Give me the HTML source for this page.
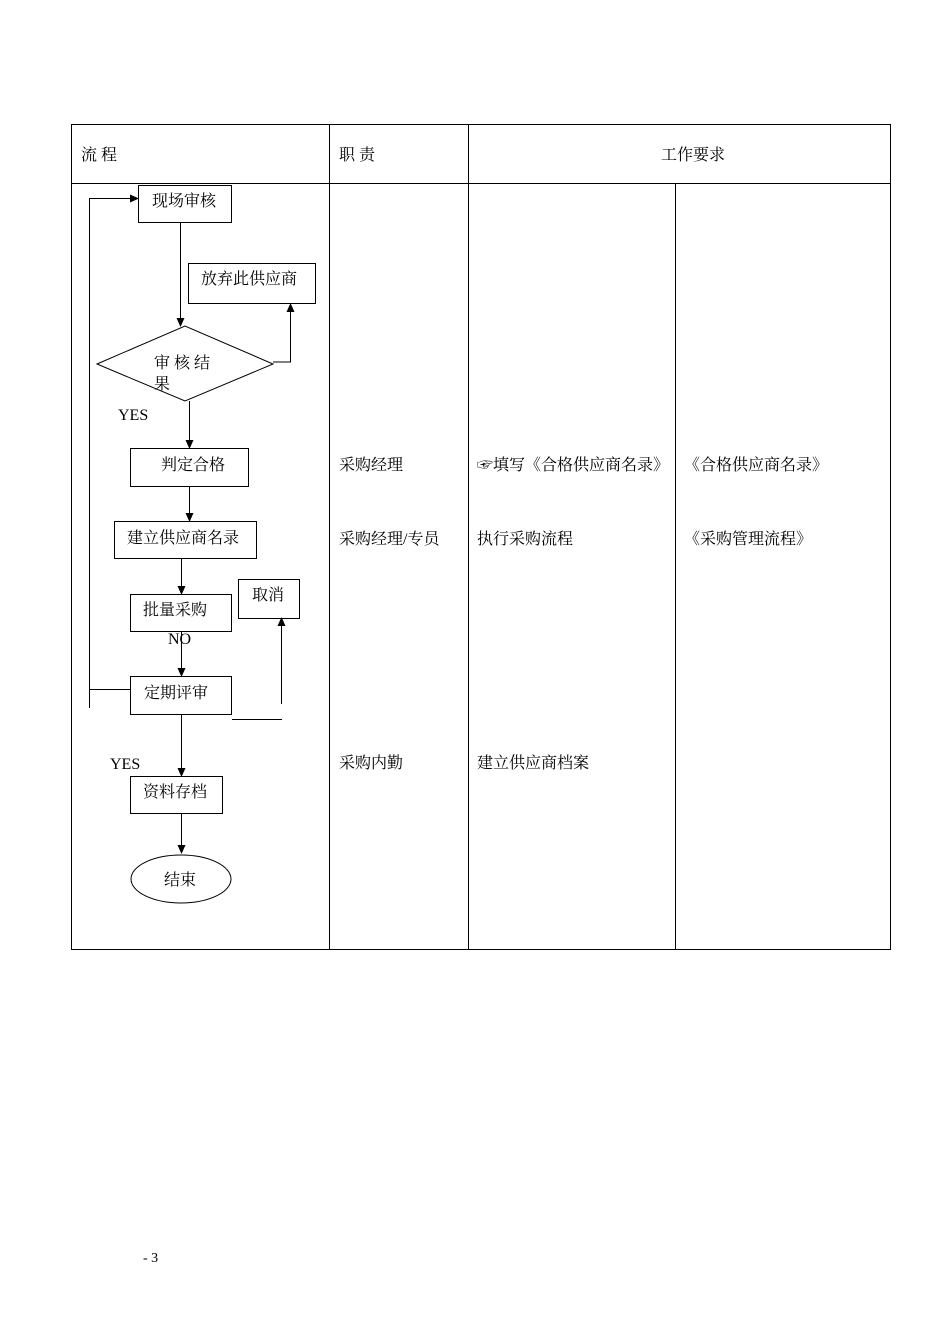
<!DOCTYPE html>
<html><head><meta charset="utf-8"><style>
body{margin:0;background:#fff;}
svg{display:block;}
text{font-family:"Liberation Serif","Noto Serif CJK SC","Noto Sans CJK SC",serif;font-size:16px;fill:#000;}
</style></head><body>
<svg width="950" height="1344" viewBox="0 0 950 1344" xmlns="http://www.w3.org/2000/svg">
<defs><marker id="a" markerWidth="10" markerHeight="10" refX="8" refY="4" orient="auto" markerUnits="userSpaceOnUse"><path d="M0,0 L9,4 L0,8 z" fill="#000"/></marker></defs>
<g stroke="#000" stroke-width="1" fill="none">
<rect x="71.5" y="124.5" width="819" height="825"/>
<line x1="71" y1="183.5" x2="890" y2="183.5"/>
<line x1="329.5" y1="124" x2="329.5" y2="949"/>
<line x1="468.5" y1="124" x2="468.5" y2="949"/>
<line x1="675.5" y1="183" x2="675.5" y2="949"/>
<rect x="138.5" y="185.5" width="93" height="37"/>
<rect x="188.5" y="263.5" width="127" height="40"/>
<polygon points="97,364 185,326 273,364 185,401"/>
<rect x="130.5" y="448.5" width="118" height="38"/>
<rect x="114.5" y="521.5" width="142" height="37"/>
<rect x="130.5" y="594.5" width="101" height="37"/>
<rect x="238.5" y="579.5" width="61" height="39"/>
<rect x="130.5" y="676.5" width="101" height="38"/>
<rect x="130.5" y="776.5" width="92" height="37"/>
<ellipse cx="181" cy="879" rx="50" ry="24"/>
<line x1="180.5" y1="222" x2="180.5" y2="326" marker-end="url(#a)"/>
<polyline points="273,362 290.5,362 290.5,304" marker-end="url(#a)"/>
<line x1="189.5" y1="401" x2="189.5" y2="448" marker-end="url(#a)"/>
<line x1="189.5" y1="487" x2="189.5" y2="521" marker-end="url(#a)"/>
<line x1="181.5" y1="559" x2="181.5" y2="594" marker-end="url(#a)"/>
<line x1="181.5" y1="632" x2="181.5" y2="676" marker-end="url(#a)"/>
<line x1="181.5" y1="715" x2="181.5" y2="776" marker-end="url(#a)"/>
<line x1="181.5" y1="814" x2="181.5" y2="853" marker-end="url(#a)"/>
<polyline points="130,689.5 89.5,689.5"/>
<polyline points="89.5,708 89.5,198.5 138,198.5" marker-end="url(#a)"/>
<line x1="232" y1="719.5" x2="282" y2="719.5"/>
<line x1="281.5" y1="704" x2="281.5" y2="618" marker-end="url(#a)"/>
</g>
<text x="81" y="160">流  程</text>
<text x="339" y="160">职 责</text>
<text x="661" y="160">工作要求</text>
<text x="152" y="206">现场审核</text>
<text x="201" y="284">放弃此供应商</text>
<text x="154" y="368">审 核 结</text>
<text x="154" y="389">果</text>
<text x="118" y="420">YES</text>
<text x="161" y="470">判定合格</text>
<text x="127" y="543">建立供应商名录</text>
<text x="143" y="615">批量采购</text>
<text x="252" y="600">取消</text>
<text x="168" y="644">NO</text>
<text x="144" y="698">定期评审</text>
<text x="110" y="769">YES</text>
<text x="143" y="797">资料存档</text>
<text x="164" y="885">结束</text>
<text x="339" y="470">采购经理</text>
<text x="339" y="544">采购经理/专员</text>
<text x="339" y="768">采购内勤</text>
<text x="477" y="470">☞填写《合格供应商名录》</text>
<text x="477" y="544">执行采购流程</text>
<text x="477" y="768">建立供应商档案</text>
<text x="684" y="470">《合格供应商名录》</text>
<text x="684" y="544">《采购管理流程》</text>
<text x="143" y="1262" style="font-size:14px">- 3</text>
</svg>
</body></html>
